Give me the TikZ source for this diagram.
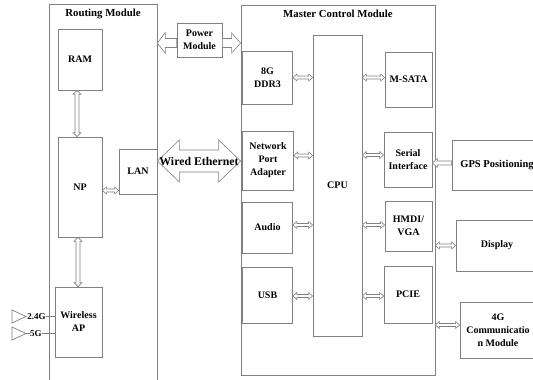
\documentclass[tikz,border=0pt]{standalone}
\usepackage{fontspec}
\setmainfont{Liberation Serif}
\usetikzlibrary{calc}
\definecolor{ln}{RGB}{128,128,128}
\begin{document}
\begin{tikzpicture}[x=1pt,y=-1pt,
  frame/.style={draw=ln, line width=0.8pt, inner sep=0pt},
  box/.style={draw=ln, line width=0.8pt, inner sep=0pt, align=center, font=\fontsize{10}{13}\selectfont\bfseries},
  ttl/.style={font=\fontsize{10.8}{12}\selectfont\bfseries, inner sep=1pt},
  lbl/.style={font=\fontsize{9}{10}\selectfont\bfseries, inner sep=0.5pt, fill=white},
  wire/.style={draw=ln, line width=0.7pt},
  dbl/.style n args={3}{draw=ln, fill=white, line width=0.6pt,
    to path={let \p1=(\tikztostart), \p2=(\tikztotarget) in
      (\x1,\y1) -- (\x1+#1pt,\y1+#2pt) -- (\x1+#1pt,\y1+#3pt) -- (\x2-#1pt,\y1+#3pt) -- (\x2-#1pt,\y1+#2pt)
      -- (\x2,\y1) -- (\x2-#1pt,\y1-#2pt) -- (\x2-#1pt,\y1-#3pt) -- (\x1+#1pt,\y1-#3pt) -- (\x1+#1pt,\y1-#2pt) -- cycle}},
  vdbl/.style n args={3}{draw=ln, fill=white, line width=0.6pt,
    to path={let \p1=(\tikztostart), \p2=(\tikztotarget) in
      (\x1,\y1) -- (\x1+#2pt,\y1-#1pt) -- (\x1+#3pt,\y1-#1pt) -- (\x1+#3pt,\y2+#1pt) -- (\x1+#2pt,\y2+#1pt)
      -- (\x1,\y2) -- (\x1-#2pt,\y2+#1pt) -- (\x1-#3pt,\y2+#1pt) -- (\x1-#3pt,\y1-#1pt) -- (\x1-#2pt,\y1-#1pt) -- cycle}},
  sarl/.style n args={3}{draw=ln, fill=white, line width=0.6pt,
    to path={let \p1=(\tikztostart), \p2=(\tikztotarget) in
      (\x2,\y1) -- (\x2+#1pt,\y1+#2pt) -- (\x2+#1pt,\y1+#3pt) -- (\x1,\y1+#3pt) -- (\x1,\y1-#3pt)
      -- (\x2+#1pt,\y1-#3pt) -- (\x2+#1pt,\y1-#2pt) -- cycle}},
  sarr/.style n args={3}{draw=ln, fill=white, line width=0.6pt,
    to path={let \p1=(\tikztostart), \p2=(\tikztotarget) in
      (\x2,\y1) -- (\x2-#1pt,\y1+#2pt) -- (\x2-#1pt,\y1+#3pt) -- (\x1,\y1+#3pt) -- (\x1,\y1-#3pt)
      -- (\x2-#1pt,\y1-#3pt) -- (\x2-#1pt,\y1-#2pt) -- cycle}},
]
\useasboundingbox[fill=white] (0,0) rectangle (533,380);

% Routing module
\node[frame, minimum width=108pt, minimum height=386pt] (routing) at (103,197) {};
\node[ttl] (rtitle) at (103,14) {Routing Module};
\node[box, minimum width=44pt, minimum height=61pt] (ram) at (80,59.5) {RAM};
\node[box, minimum width=44pt, minimum height=100pt] (np) at (80,187) {NP};
\node[box, minimum width=38pt, minimum height=45pt] (lan) at (138,171.5) {LAN};
\node[box, minimum width=47pt, minimum height=70pt] (wap) at (78.5,322) {Wireless\\AP};

% Power
\node[box, minimum width=45pt, minimum height=34pt] (power) at (199.5,40) {Power\\Module};

% Master control module
\node[frame, minimum width=194pt, minimum height=370pt] (master) at (338,190) {};
\node[ttl] (mtitle) at (338,14) {Master Control Module};
\node[box, minimum width=50pt, minimum height=53pt] (ddr) at (267.5,77.5) {8G\\DDR3};
\node[box, minimum width=51pt, minimum height=59pt] (npa) at (268,160.5) {Network\\Port\\Adapter};
\node[box, minimum width=50pt, minimum height=51pt] (audio) at (267.5,227.5) {Audio};
\node[box, minimum width=50pt, minimum height=56pt] (usb) at (267.5,295) {USB};
\node[box, minimum width=49pt, minimum height=301pt] (cpu) at (337.5,185.5) {CPU};
\node[box, minimum width=47pt, minimum height=55pt] (msata) at (408.5,79.5) {M-SATA};
\node[box, minimum width=48pt, minimum height=55pt] (serial) at (408,159.5) {Serial\\Interface};
\node[box, minimum width=47pt, minimum height=50pt] (hdmi) at (408.5,226) {HMDI/\\VGA};
\node[box, minimum width=48pt, minimum height=57pt] (pcie) at (408,294.5) {PCIE};

% External
\node[box, minimum width=90pt, minimum height=50pt, font=\fontsize{10.5}{13}\selectfont\bfseries] (gps) at (497,165) {GPS Positioning};
\node[box, minimum width=82pt, minimum height=51pt] (disp) at (497,245.5) {Display};
\node[box, minimum width=76pt, minimum height=56pt] (g4) at (498,330) {4G\\Communicatio\\n Module};

% Routing arrows
\path[vdbl={4}{4}{2}] ([xshift=-3pt]ram.south) to (np.north);
\path[vdbl={4}{4}{2}] ([xshift=-2pt]np.south) to (wap.north);
\path[dbl={4}{3.5}{1.5}] ([yshift=-3.5pt]np.east) to (lan.west);

% Power arrows
\path[sarl={8}{10.5}{4.5}] ([yshift=-3pt]power.west) to (routing.east);
\path[sarr={9}{10}{4.5}] ([yshift=-3pt]power.east) to (master.west);

% Wired Ethernet
\path[dbl={22}{21}{11}] ([yshift=10.5pt]lan.east) to (master.west);
\node[ttl, font=\fontsize{11.8}{13}\selectfont\bfseries] (eth) at (199,161) {Wired Ethernet};

% Master arrows
\path[dbl={4}{3.5}{1.5}] (ddr.east) to (cpu.west);
\path[dbl={4}{3.5}{1.5}] (cpu.east |- ddr.east) to (msata.west);
\path[dbl={4}{3.5}{1.5}] ([yshift=5pt]npa.east) to (cpu.west);
\path[dbl={4}{3.5}{1.5}] ([yshift=4.5pt]serial.west -| cpu.east) to (serial.west);
\path[dbl={4}{3.5}{1.5}] ([yshift=2.5pt]audio.east) to (cpu.west);
\path[dbl={4}{3.5}{1.5}] ([yshift=1pt]hdmi.west -| cpu.east) to (hdmi.west);
\path[dbl={4}{3.5}{1.5}] ([yshift=-1pt]usb.east) to (cpu.west);
\path[dbl={4}{3.5}{1.5}] ([yshift=-1.5pt]pcie.west -| cpu.east) to (pcie.west);
\path[dbl={4}{3.5}{1.5}] (disp.west -| master.east) to (disp.west);
\path[dbl={4}{3.5}{1.5}] ([yshift=5pt]g4.west -| master.east) to (g4.west);
\path[sarl={5}{4.5}{2}] ([yshift=2pt]gps.west) to (serial.east);

% Antennas
\coordinate (t1) at (26,316.5);
\coordinate (t2) at (26,333.5);
\draw[wire] (t1) -- (t1 -| wap.west);
\draw[wire] (t2) -- (t2 -| wap.west);
\draw[wire] (t1) -- ++(-14,-6.5) -- ++(0,13) -- cycle;
\draw[wire] (t2) -- ++(-14,-6.5) -- ++(0,13) -- cycle;
\node[lbl] (l24) at (36.5,316.5) {2.4G};
\node[lbl] (l5) at (36,333.5) {5G};
\end{tikzpicture}
\end{document}
